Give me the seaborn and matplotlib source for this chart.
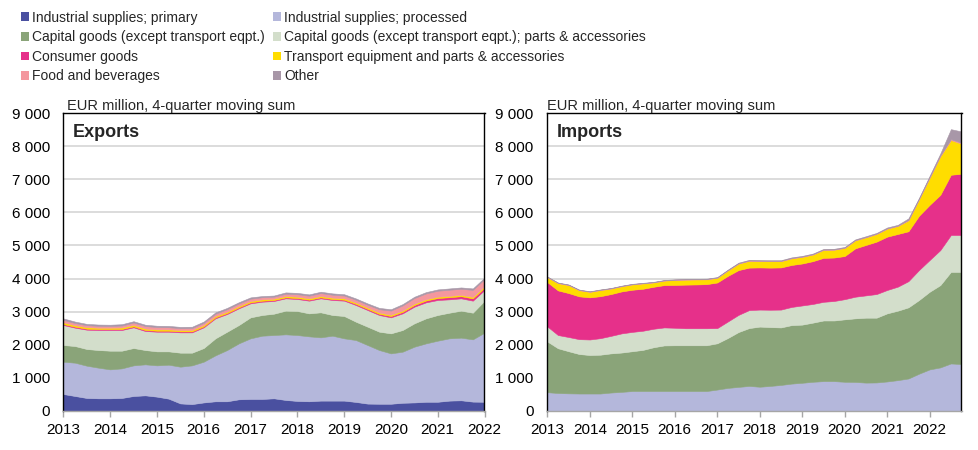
import numpy as np
import pandas as pd
import matplotlib
matplotlib.use("Agg")
import matplotlib.pyplot as plt
from matplotlib.patches import Patch
import seaborn as sns

# ---------------- data ----------------
categories = [
    "Industrial supplies; primary",
    "Industrial supplies; processed",
    "Capital goods (except transport eqpt.)",
    "Capital goods (except transport eqpt.); parts & accessories",
    "Consumer goods",
    "Transport equipment and parts & accessories",
    "Food and beverages",
    "Other",
]
colors = ["#4A50A0", "#B4B7DB", "#8AA479", "#D3DECB",
          "#E6308A", "#FFDD00", "#F4979E", "#A897A8"]

exp_quarters = pd.period_range("2013Q1", "2022Q1", freq="Q")
imp_quarters = pd.period_range("2013Q1", "2022Q4", freq="Q")

exp_primary = [505, 445, 385, 375, 375, 385, 445, 465, 425, 365, 220, 200, 250, 285, 285, 345, 355, 355, 375,
               325, 295, 285, 305, 305, 305, 265, 215, 210, 210, 240, 250, 270, 270, 305, 315, 275, 270]
exp_processed = [978, 1008, 977, 927, 876, 896, 927, 938, 947, 1027, 1112, 1172, 1233, 1390, 1551, 1693, 1835,
                 1915, 1915, 1986, 1995, 1965, 1915, 1965, 1885, 1874, 1773, 1626, 1525, 1546, 1687, 1768,
                 1849, 1885, 1895, 1884, 2091]
exp_capital = [505, 504, 505, 534, 565, 535, 525, 433, 424, 404, 424, 384, 414, 515, 555, 555, 635, 626, 646,
               716, 727, 696, 757, 626, 676, 555, 555, 555, 606, 656, 707, 757, 777, 776, 817, 807, 969]
exp_parts = [605, 555, 585, 606, 626, 626, 626, 576, 595, 595, 615, 615, 626, 605, 535, 505, 424, 403, 384,
             373, 363, 384, 423, 454, 464, 504, 504, 505, 484, 504, 504, 484, 454, 404, 373, 364, 322]
exp_consumer = [30] * 25 + [35, 35, 35, 40, 45, 50, 55, 60, 65, 65, 70, 70]
exp_transport = [50, 45, 45, 40, 40, 45, 45, 45] + [40] * 27 + [45, 45]
exp_food = [75, 65, 60, 55, 50, 60, 70, 75, 70, 65, 55, 60, 65, 70, 75, 75, 70, 65, 60, 70,
            75, 80, 90, 90, 85, 85, 85, 100, 125, 155, 170, 175, 180, 185, 185, 210, 215]
exp_other = [45, 45] + [40] * 15 + [35, 35] + [40] * 16 + [45, 45]

imp_primary = [0] * 40
imp_processed = [560, 535, 525, 520, 520, 520, 550, 570, 595, 595, 595, 595, 595, 595, 595, 595, 640, 690, 720,
                 750, 725, 750, 780, 820, 845, 875, 895, 895, 875, 870, 850, 855, 885, 925, 975, 1120, 1250,
                 1310, 1430, 1410]
imp_capital = [1535, 1355, 1275, 1195, 1165, 1175, 1185, 1190, 1205, 1245, 1325, 1380, 1385, 1385, 1385, 1385,
               1400, 1510, 1660, 1750, 1820, 1780, 1740, 1770, 1760, 1790, 1835, 1835, 1890, 1925, 1965, 1960,
               2061, 2102, 2153, 2230, 2350, 2490, 2770, 2790]
imp_parts = [455, 400, 430, 450, 470, 500, 530, 580, 585, 580, 560, 545, 530, 515, 515, 515, 460, 500, 520,
             545, 515, 525, 540, 550, 580, 565, 565, 590, 610, 655, 675, 715, 707, 727, 792, 908, 960, 1060,
             1117, 1117]
imp_consumer = [1340, 1350, 1330, 1295, 1275, 1270, 1265, 1270, 1275, 1270, 1270, 1280, 1295, 1320, 1325, 1335,
                1380, 1380, 1355, 1285, 1275, 1275, 1275, 1270, 1270, 1295, 1330, 1315, 1305, 1464, 1525, 1586,
                1614, 1594, 1510, 1642, 1670, 1670, 1823, 1853]
imp_transport = [150, 220, 240, 185, 165, 185, 165, 155, 160, 160, 130, 135, 150, 150, 150, 145, 140, 165, 195,
                 205, 195, 195, 190, 200, 200, 200, 240, 235, 245, 241, 231, 232, 242, 242, 330, 500, 820, 1170,
                 1050, 910]
imp_food = [10] * 34 + [15, 15, 20, 20, 30, 30]
imp_other = [10, 10, 10, 10, 10, 10, 10, 10, 10, 10, 10, 10, 10, 10, 10, 10, 15, 15, 20, 20,
             20, 20, 20, 20, 20, 20, 20, 20, 20, 20, 25, 22, 26, 25, 45, 25, 40, 60, 300, 340]

year_ticks = list(range(2013, 2023))
y_ticks = list(range(0, 9001, 1000))
unit_label = "EUR million, 4-quarter moving sum"

# ---------------- styling ----------------
sns.set_theme(style="white")
plt.rcParams["font.family"] = ["Liberation Sans", "DejaVu Sans"]
palette = sns.color_palette(colors)

fig = plt.figure(figsize=(9.79, 4.5), dpi=100)
W, H = 979, 450


def px_axes(x0, x1, ytop, ybot):
    return fig.add_axes([x0 / W, 1 - ybot / H, (x1 - x0) / W, (ybot - ytop) / H])


ax_e = px_axes(63.3, 484.5, 113.3, 410.7)
ax_i = px_axes(547.3, 961.5, 113.3, 410.7)


def to_x(quarters):
    return np.array([q.year + (q.quarter - 1) / 4 for q in quarters])


def draw(ax, quarters, series, title, xmax, ypad):
    x = to_x(quarters)
    ax.stackplot(x, *series, colors=palette, linewidth=0.4, edgecolor="face")
    ax.set_xlim(2013, xmax)
    ax.set_ylim(0, 9000)
    ax.set_axisbelow(True)
    ax.yaxis.grid(True, color="#D9D9D9", linewidth=1.3)
    ax.xaxis.grid(False)
    ax.set_yticks(y_ticks)
    ax.set_yticklabels([f"{v:,}".replace(",", " ") for v in y_ticks], fontsize=11)
    ax.set_xticks(year_ticks)
    ax.set_xticklabels([str(y) for y in year_ticks], fontsize=11)
    ax.tick_params(axis="y", length=0, pad=ypad, colors="black")
    ax.tick_params(axis="x", length=4, width=1, color="#A6A6A6", direction="out", pad=5,
                   labelcolor="black", bottom=True)
    for s in ["left", "top", "right"]:
        ax.spines[s].set_color("black")
        ax.spines[s].set_linewidth(1.0)
    ax.spines["bottom"].set_color("#A6A6A6")
    ax.spines["bottom"].set_linewidth(1.0)
    ax.text(0.022, 0.921, title, transform=ax.transAxes, fontsize=13, fontweight="bold",
            va="baseline", ha="left")
    ax.text(0.0 if title == "Imports" else 0.008, 1.011, unit_label, transform=ax.transAxes,
            fontsize=10.5, va="baseline", ha="left")


draw(ax_e, exp_quarters,
     [exp_primary, exp_processed, exp_capital, exp_parts, exp_consumer, exp_transport, exp_food, exp_other],
     "Exports", 2022, 9.5)
draw(ax_i, imp_quarters,
     [imp_primary, imp_processed, imp_capital, imp_parts, imp_consumer, imp_transport, imp_food, imp_other],
     "Imports", 2022.75, 10)

# ---------------- legend (two columns, row-wise order) ----------------
handles = [Patch(facecolor=c, edgecolor="none") for c in palette]
leg_font = {"family": ["Liberation Sans", "DejaVu Sans"], "size": 10}
col1 = [0, 2, 4, 6]
col2 = [1, 3, 5, 7]
for cols, xpx in [(col1, 18), (col2, 270)]:
    fig.legend([handles[i] for i in cols], [categories[i] for i in cols],
               loc="upper left", bbox_to_anchor=(xpx / W, 1 - 8 / H),
               frameon=False, prop=leg_font, handlelength=0.6, handleheight=0.6,
               handletextpad=0.2, labelspacing=0.4, borderaxespad=0, borderpad=0.2)

fig.savefig("out.png", dpi=100)
